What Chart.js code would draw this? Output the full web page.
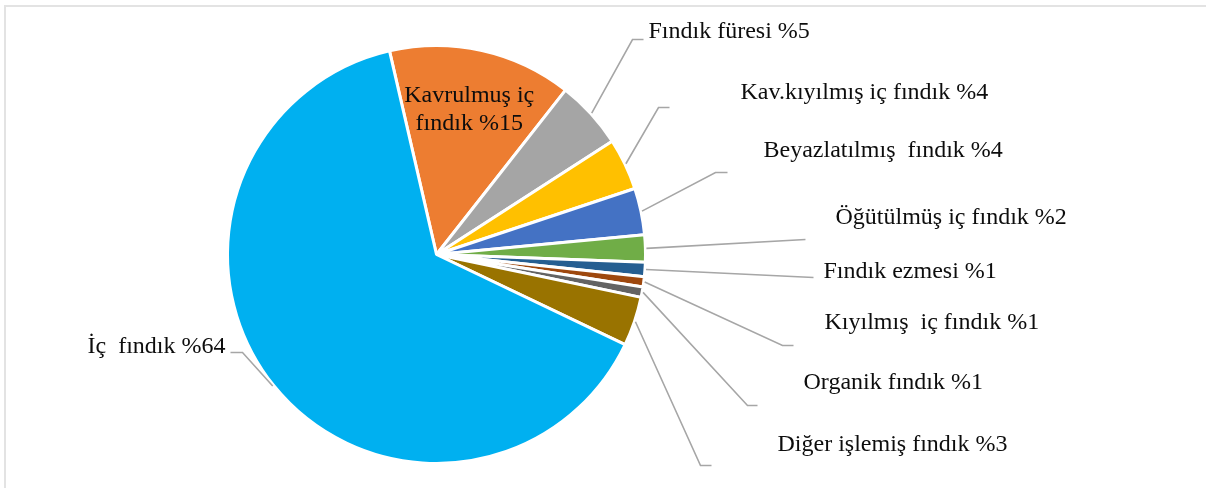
<!DOCTYPE html>
<html>
<head>
<meta charset="utf-8">
<script src="https://cdn.jsdelivr.net/npm/chart.js@4/dist/chart.umd.min.js"></script>
<style>
  html, body { margin: 0; padding: 0; background: #fff; }
  #wrap { position: relative; width: 1206px; height: 488px; overflow: hidden; }
  #frame { position: absolute; left: 4px; top: 5px; width: 1300px; height: 520px; border: 2px solid #e3e3e3; box-sizing: border-box; }
  canvas { position: absolute; left: 0; top: 0; }
</style>
</head>
<body>
<div id="wrap">
  <div id="frame"></div>
  <canvas id="pie" width="1206" height="488"></canvas>
</div>
<script>
// categories (label text) and their shown percentages
const categories = [
  'Kavrulmuş iç fındık', 'Fındık füresi', 'Kav.kıyılmış iç fındık', 'Beyazlatılmış  fındık',
  'Öğütülmüş iç fındık', 'Fındık ezmesi', 'Kıyılmış  iç fındık', 'Organik fındık',
  'Diğer işlemiş fındık', 'İç  fındık'
]
const percentLabels = ['%15', '%5', '%4', '%4', '%2', '%1', '%1', '%1', '%3', '%64']
// slice sizes
const shares = [14.2, 5.3, 4.0, 3.6, 2.1, 1.1, 0.8, 0.8, 3.8, 64.3]
const colors = ['#ED7D31', '#A5A5A5', '#FFC000', '#4472C4', '#70AD47',
  '#255E91', '#9E480E', '#636363', '#997300', '#00B0F0']

// label placement, offsets from the pie centre: text anchor, elbow, line end
const labelLayout = [
  { inside: true },
  { tx: 212, ty: -217, ex: 196, ey: -215, lx: 207, ly: -215 },
  { tx: 304, ty: -156, ex: 222, ey: -147, lx: 233, ly: -147 },
  { tx: 327, ty: -98, ex: 279, ey: -82, lx: 291, ly: -82 },
  { tx: 399, ty: -31, ex: 369, ey: -15, lx: 369, ly: -15 },
  { tx: 387, ty: 23, ex: 377, ey: 23, lx: 377, ly: 23 },
  { tx: 388, ty: 74, ex: 346, ey: 91, lx: 357, ly: 91 },
  { tx: 367, ty: 134, ex: 311, ey: 151, lx: 321, ly: 151 },
  { tx: 341, ty: 196, ex: 264, ey: 211, lx: 275, ly: 211 },
  { tx: -211, ty: 98, ex: -194, ey: 98, lx: -206, ly: 98, right: true }
]

const FONT = '24px "Liberation Serif", "Times New Roman", serif'

const leaderLabels = {
  id: 'leaderLabels',
  afterDatasetsDraw(chart) {
    const ctx = chart.ctx
    const meta = chart.getDatasetMeta(0)
    ctx.save()
    ctx.font = FONT
    ctx.fillStyle = '#0d0d0d'
    meta.data.forEach((arc, i) => {
      const p = arc.getProps(['x', 'y', 'startAngle', 'endAngle', 'outerRadius'], true)
      const mid = (p.startAngle + p.endAngle) / 2
      const lay = labelLayout[i]
      const text = categories[i] + ' ' + percentLabels[i]

      if (lay.inside) {
        // two lines centred inside the slice
        const r = p.outerRadius * 0.72
        const x = p.x + Math.cos(mid) * r
        const y = p.y + Math.sin(mid) * r
        ctx.textAlign = 'center'
        ctx.textBaseline = 'alphabetic'
        ctx.fillText('Kavrulmuş iç', x, y - 6)
        ctx.fillText('fındık ' + percentLabels[i], x, y + 22)
        return
      }

      // leader line from slice edge to elbow then to label
      const sx = p.x + Math.cos(mid) * (p.outerRadius + 1)
      const sy = p.y + Math.sin(mid) * (p.outerRadius + 1)
      ctx.strokeStyle = '#a6a6a6'
      ctx.lineWidth = 1.6
      ctx.beginPath()
      ctx.moveTo(sx, sy)
      ctx.lineTo(p.x + lay.ex, p.y + lay.ey)
      ctx.lineTo(p.x + lay.lx, p.y + lay.ly)
      ctx.stroke()

      ctx.textAlign = lay.right ? 'right' : 'left'
      ctx.textBaseline = 'alphabetic'
      ctx.fillText(text, p.x + lay.tx, p.y + lay.ty)
    })
    ctx.restore()
  }
}

new Chart(document.getElementById('pie'), {
  type: 'pie',
  data: {
    labels: categories,
    datasets: [{
      data: shares,
      backgroundColor: colors,
      borderColor: '#ffffff',
      borderWidth: 3,
      hoverOffset: 0
    }]
  },
  options: {
    responsive: false,
    animation: false,
    rotation: -13,
    layout: { padding: { left: 226, right: 559, top: 44, bottom: 23 } },
    plugins: {
      legend: { display: false },
      tooltip: { enabled: false }
    }
  },
  plugins: [leaderLabels]
})
</script>
</body>
</html>
